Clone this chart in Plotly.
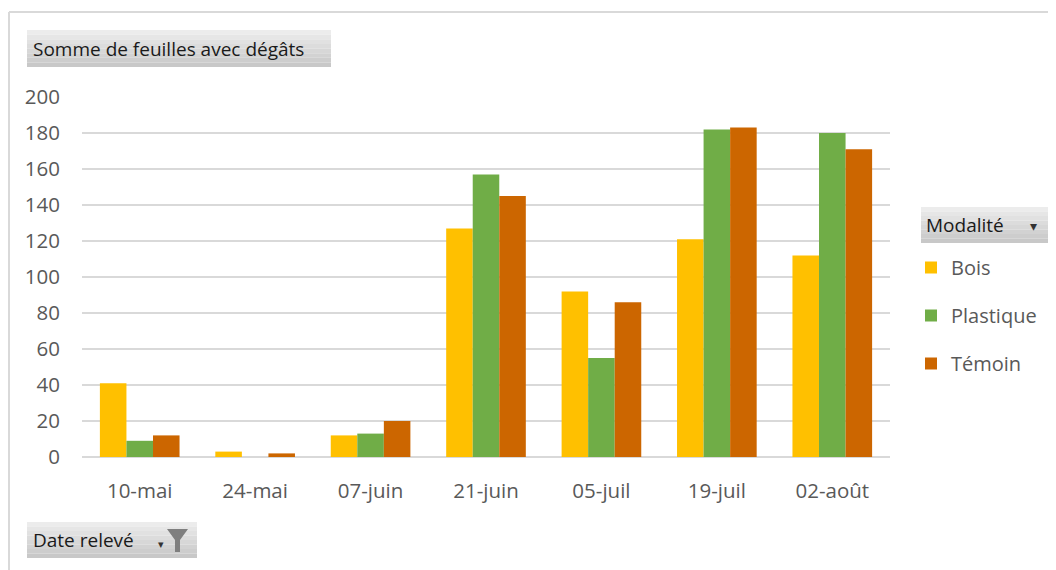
import plotly.graph_objects as go

dates = ["10-mai", "24-mai", "07-juin", "21-juin", "05-juil", "19-juil", "02-août"]
bois = [41, 3, 12, 127, 92, 121, 112]
plastique = [9, 0, 13, 157, 55, 182, 180]
temoin = [12, 2, 20, 145, 86, 183, 171]
series_names = ["Bois", "Plastique", "Témoin"]
colors = ["#FFC000", "#70AD47", "#CC6600"]
y_ticks = [0, 20, 40, 60, 80, 100, 120, 140, 160, 180, 200]

# page offset (body margin) compensation
OX, OY = 8, 8
W, H = 1056 - OX, 570 - OY
L, R, T, B = 82, 890, 97, 457   # plot area in page pixels
FONT = "Open Sans"


def px(x):
    return (x - L) / (R - L)


def py(y):
    return (B - y) / (B - T)


fig = go.Figure()
for name, vals, col in zip(series_names, [bois, plastique, temoin], colors):
    fig.add_trace(go.Bar(x=dates, y=vals, name=name, marker=dict(color=col, line=dict(width=0)),
                         legendgroup=name))

shapes = []
annotations = []

# outer frame
shapes.append(dict(type="line", xref="paper", yref="paper", x0=px(9), x1=px(1060), y0=py(12), y1=py(12),
                   line=dict(color="#D9D9D9", width=2)))
shapes.append(dict(type="line", xref="paper", yref="paper", x0=px(9), x1=px(9), y0=py(12), y1=py(580),
                   line=dict(color="#D9D9D9", width=2)))


def button(x0, y0, x1, y1):
    n = 8
    top = (236, 236, 236)
    bot = (200, 200, 200)
    for i in range(n):
        t = i / (n - 1)
        c = tuple(int(top[k] + (bot[k] - top[k]) * t) for k in range(3))
        ya = y0 + (y1 - y0) * i / n
        yb = y0 + (y1 - y0) * (i + 1) / n
        shapes.append(dict(type="rect", xref="paper", yref="paper", x0=px(x0), x1=px(x1),
                           y0=py(ya), y1=py(yb), line=dict(width=0),
                           fillcolor="rgb(%d,%d,%d)" % c, layer="above"))


# title button
button(27, 30, 331, 67)
annotations.append(dict(xref="paper", yref="paper", x=px(31), y=py(48.5), xanchor="left", yanchor="middle",
                        text="Somme de feuilles avec dégâts", showarrow=False,
                        font=dict(family=FONT, size=19, color="#1a1a1a")))

# legend header button
button(921, 207, 1049, 243)
annotations.append(dict(xref="paper", yref="paper", x=px(924), y=py(225), xanchor="left", yanchor="middle",
                        text="Modalité", showarrow=False,
                        font=dict(family=FONT, size=19, color="#1a1a1a")))
annotations.append(dict(xref="paper", yref="paper", x=px(1033), y=py(226), xanchor="center", yanchor="middle",
                        text="▾", showarrow=False,
                        font=dict(family=FONT, size=14, color="#333333")))

# date filter button
button(27, 522, 197, 558)
annotations.append(dict(xref="paper", yref="paper", x=px(31), y=py(540), xanchor="left", yanchor="middle",
                        text="Date relevé", showarrow=False,
                        font=dict(family=FONT, size=19, color="#1a1a1a")))
annotations.append(dict(xref="paper", yref="paper", x=px(161), y=py(543), xanchor="center", yanchor="middle",
                        text="▾", showarrow=False,
                        font=dict(family=FONT, size=11, color="#333333")))
# funnel icon
fx = [167, 188, 180, 180, 175, 175]
fy = [529, 529, 540, 552, 552, 540]
path = "M " + " L ".join("%f,%f" % (px(a), py(b)) for a, b in zip(fx, fy)) + " Z"
shapes.append(dict(type="path", xref="paper", yref="paper", path=path,
                   fillcolor="#7F7F7F", line=dict(width=0), layer="above"))

fig.update_layout(
    width=W, height=H,
    margin=dict(l=L - OX, r=W - (R - OX), t=T - OY, b=H - (B - OY), pad=0),
    paper_bgcolor="white", plot_bgcolor="white",
    barmode="group", bargap=0.31, bargroupgap=0,
    font=dict(family=FONT, size=19, color="#595959"),
    xaxis=dict(showgrid=False, zeroline=False, showline=False, ticks="",
               tickfont=dict(family=FONT, size=20.5, color="#595959"), ticklabelstandoff=19),
    yaxis=dict(range=[0, 200], tickvals=y_ticks, showgrid=True, gridcolor="#D9D9D9", gridwidth=2,
               zeroline=True, zerolinecolor="#D9D9D9", zerolinewidth=2, showline=False, ticks="",
               tickfont=dict(family=FONT, size=20.5, color="#595959"), ticklabelstandoff=21),
    legend=dict(x=px(911), y=py(248), xanchor="left", yanchor="top", bgcolor="rgba(0,0,0,0)",
                font=dict(family=FONT, size=20, color="#595959"), tracegroupgap=19,
                itemwidth=30),
    shapes=shapes,
    annotations=annotations,
)

fig.write_html("out.html")
